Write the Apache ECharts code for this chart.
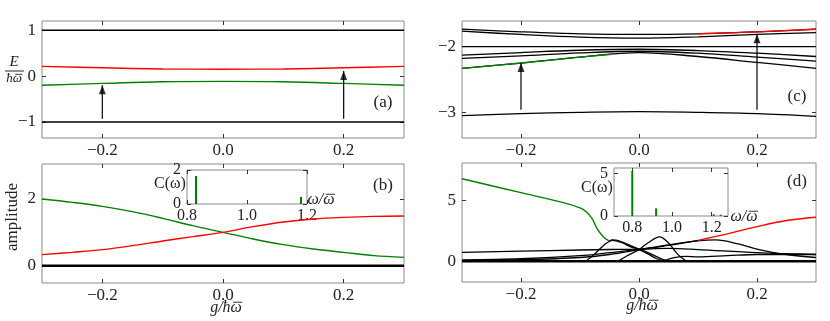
<!DOCTYPE html>
<html><head><meta charset="utf-8">
<script src="https://cdn.jsdelivr.net/npm/echarts@6/dist/echarts.min.js"></script>
<style>html,body{margin:0;padding:0;background:#fff}#c{width:830px;height:321px}</style>
</head><body><div id="c"></div>
<script>
// ---------- data ----------
// panel (a)
const aX = [-0.3,-0.2,-0.1,0,0.1,0.2,0.3];
const aTop = [1,1,1,1,1,1,1];
const aRed = [0.21,0.18,0.155,0.15,0.155,0.18,0.21];
const aGreen = [-0.2,-0.16,-0.125,-0.115,-0.125,-0.16,-0.2];
const aBottom = [-1,-1,-1,-1,-1,-1,-1];
const aArrows = [[-0.2,-0.93,-0.2],[0.2,-0.93,0.11]];
// panel (b)
const bX = [-0.3,-0.25,-0.2,-0.15,-0.1,-0.05,0,0.05,0.1,0.15,0.2,0.25,0.3];
const bGreen = [2.0,1.9,1.78,1.62,1.42,1.2,1.0,0.8,0.63,0.5,0.4,0.3,0.25];
const bRed = [0.33,0.4,0.48,0.6,0.74,0.87,1.0,1.17,1.31,1.4,1.45,1.48,1.49];
const bZero = [0,0,0,0,0,0,0,0,0,0,0,0,0];
// inset (b)
const ibX = [0.83,1.18];
const ibY = [1.65,0.41];
// panel (c)
const cX = [-0.3,-0.2,-0.1,0,0.1,0.2,0.3];
const cTop1 = [-1.735,-1.775,-1.805,-1.815,-1.805,-1.775,-1.735];
const cTop2 = [-1.765,-1.815,-1.855,-1.87,-1.85,-1.815,-1.787];
const cFlat = [-2,-2,-2,-2,-2,-2,-2];
const cMid1 = [-2.13,-2.09,-2.055,-2.04,-2.06,-2.1,-2.15];
const cMid2 = [-2.18,-2.14,-2.095,-2.07,-2.1,-2.16,-2.22];
const cMid3 = [-2.33,-2.25,-2.16,-2.09,-2.15,-2.24,-2.33];
const cLow = [-3.05,-3.02,-3.0,-2.99,-3.0,-3.02,-3.06];
const cGreenX = [-0.3,-0.2,-0.1,-0.05];
const cGreen = [-2.33,-2.25,-2.16,-2.12];
const cRedX = [0.1,0.2,0.3];
const cRed = [-1.805,-1.775,-1.735];
const cArrows = [[-0.2,-2.96,-2.25],[0.2,-2.96,-1.81]];
// panel (d)
const dGreenX = [-0.3,-0.2,-0.13,-0.1,-0.09,-0.08,-0.07,-0.06,-0.05];
const dGreen = [6.8,5.65,4.85,4.4,4.1,3.55,2.6,2.0,1.65];
const dRedX = [0.1,0.15,0.2,0.25,0.3];
const dRed = [1.72,2.25,2.85,3.35,3.62];
const d1X = [-0.3,-0.2,-0.1,-0.05,0,0.05,0.1];
const d1 = [0.72,0.83,0.92,0.96,1.0,1.3,1.72];
const d2X = [-0.3,-0.2,-0.1,-0.05,0,0.05,0.1,0.13,0.17,0.2,0.25,0.3];
const d2 = [0.05,0.12,0.3,0.55,0.95,1.35,1.68,1.75,1.4,1.0,0.55,0.3];
const d3X = [-0.05,-0.045,-0.035,-0.02,0,0.02,0.04,0.05];
const d3 = [1.65,1.75,1.7,1.4,1.0,0.6,0.15,0];
const d4X = [-0.09,-0.075,-0.06,-0.045,-0.03,-0.015,0,0.015,0.03,0.045];
const d4 = [0,0.6,1.3,1.72,1.55,1.2,0.95,0.6,0.2,0];
const d5X = [-0.035,-0.02,0,0.015,0.035,0.05,0.065,0.08];
const d5 = [0,0.45,0.95,1.5,2.0,1.5,0.6,0];
const d6X = [-0.3,-0.2,-0.1,-0.05,0,0.05,0.1,0.2,0.3];
const d6 = [0.1,0.2,0.45,0.7,0.95,1.05,0.95,0.7,0.55];
const d7X = [0.04,0.06,0.08,0.1,0.15,0.2,0.3];
const d7 = [0,0.3,0.4,0.35,0.45,0.55,0.55];
const dZeroX = [-0.3,0.3];
const dZero = [0,0];
// inset (d)
const idX = [0.8,0.92,1.21,1.245];
const idY = [5.3,0.9,0.2,0.15];
// tick labels
const mainXTicks = [-0.2,0,0.2];
const aYTicks = [-1,0,1];
const bYTicks = [0,2];
const cYTicks = [-3,-2];
const dYTicks = [0,5];
const ibXTicks = [0.8,1.0,1.2];
const ibYTicks = [0,2];
const idXTicks = [0.8,1.0,1.2];
const idYTicks = [0,5];

// ---------- chart ----------
const FONT = 'Liberation Serif';
const GREEN = '#008000', RED = '#ff0000', BLACK = '#000';
const fmt = d => v => (v < 0 ? '\u2212' : '') + Math.abs(v).toFixed(d);
const pairs = (xs, ys) => xs.map((x, i) => [x, ys[i]]);

const grids = [
  {left:42, top:21, width:362, height:117},
  {left:42, top:164, width:362, height:119},
  {left:462, top:21, width:354, height:117},
  {left:462, top:163, width:354, height:119},
  {left:187, top:170, width:120, height:34, backgroundColor:'#fff'},
  {left:614, top:168, width:114, height:48, backgroundColor:'#fff'}
].map(g => Object.assign({show:true, borderColor:'#8a8a8a', borderWidth:1, containLabel:false}, g));

const xAxes = [], yAxes = [];
function axes(g, xmin, xmax, xt, xd, ymin, ymax, yt, yd, fs) {
  const tick = (vals) => ({show:true, inside:true, length:4, customValues:vals, lineStyle:{color:'#333', width:1}});
  const line = {show:false, onZero:false};
  xAxes.push({gridIndex:g, type:'value', min:xmin, max:xmax, position:'bottom',
    axisLine:line, splitLine:{show:false}, axisTick:tick(xt),
    axisLabel:{customValues:xt, formatter:fmt(xd), fontFamily:FONT, fontSize:fs, color:'#222', margin:4}});
  xAxes.push({gridIndex:g, type:'value', min:xmin, max:xmax, position:'top',
    axisLine:line, splitLine:{show:false}, axisTick:tick(xt), axisLabel:{show:false}});
  yAxes.push({gridIndex:g, type:'value', min:ymin, max:ymax, position:'left',
    axisLine:line, splitLine:{show:false}, axisTick:tick(yt),
    axisLabel:{customValues:yt, formatter:fmt(yd), fontFamily:FONT, fontSize:fs, color:'#222', margin:6}});
  yAxes.push({gridIndex:g, type:'value', min:ymin, max:ymax, position:'right',
    axisLine:line, splitLine:{show:false}, axisTick:tick(yt), axisLabel:{show:false}});
}
axes(0, -0.3, 0.3, mainXTicks, 1, -1.35, 1.2, aYTicks, 0, 17);
axes(1, -0.3, 0.3, mainXTicks, 1, -0.52, 3.05, bYTicks, 0, 17);
axes(2, -0.3, 0.3, mainXTicks, 1, -3.39, -1.61, cYTicks, 0, 17);
axes(3, -0.3, 0.3, mainXTicks, 1, -1.72, 8.1, dYTicks, 0, 17);
axes(4, 0.8, 1.2, ibXTicks, 1, 0, 2, ibYTicks, 0, 16);
axes(5, 0.708, 1.282, idXTicks, 1, 0, 5.65, idYTicks, 0, 16);

const series = [];
function line(g, xs, ys, color, width, z) {
  series.push({type:'line', xAxisIndex:2*g, yAxisIndex:2*g, data:pairs(xs, ys), smooth:0.35,
    showSymbol:false, symbol:'none', lineStyle:{color, width}, z:z||2, silent:true, animation:false});
}
function arrows(g, arr) {
  arr.forEach(a => {
    series.push({type:'line', xAxisIndex:2*g, yAxisIndex:2*g, data:[[a[0],a[1]],[a[0],a[2]]],
      showSymbol:false, symbol:'none', lineStyle:{color:BLACK, width:1.2}, z:5, animation:false, silent:true});
    series.push({type:'scatter', xAxisIndex:2*g, yAxisIndex:2*g, data:[[a[0],a[2]]],
      symbol:'triangle', symbolSize:[7,9], symbolOffset:[0,4.5], itemStyle:{color:BLACK}, z:6, animation:false, silent:true});
  });
}
// (a)
line(0, aX, aTop, BLACK, 1.4);
line(0, aX, aRed, RED, 1.4);
line(0, aX, aGreen, GREEN, 1.4);
line(0, aX, aBottom, BLACK, 1.4);
arrows(0, aArrows);
// (b)
line(1, bX, bZero, BLACK, 2.5);
line(1, bX, bGreen, GREEN, 1.4);
line(1, bX, bRed, RED, 1.4);
// (c)
[cTop1, cTop2, cFlat, cMid1, cMid2, cMid3, cLow].forEach(ys => line(2, cX, ys, BLACK, 1.3));
line(2, cGreenX, cGreen, GREEN, 1.4, 3);
line(2, cRedX, cRed, RED, 1.4, 3);
arrows(2, cArrows);
// (d)
line(3, dZeroX, dZero, BLACK, 2.5);
[[d1X,d1],[d2X,d2],[d3X,d3],[d4X,d4],[d5X,d5],[d6X,d6],[d7X,d7]].forEach(p => line(3, p[0], p[1], BLACK, 1.3));
line(3, dGreenX, dGreen, GREEN, 1.4, 3);
line(3, dRedX, dRed, RED, 1.4, 3);
// insets
series.push({type:'bar', xAxisIndex:8, yAxisIndex:8, data:pairs(ibX, ibY), barWidth:2, itemStyle:{color:GREEN}, animation:false, z:10});
series.push({type:'bar', xAxisIndex:10, yAxisIndex:10, data:pairs(idX, idY), barWidth:2, itemStyle:{color:GREEN}, animation:false, z:10});

// text helpers (with overbar on the trailing omega)
const ctx = document.createElement('canvas').getContext('2d');
function measure(text, size, italic) {
  ctx.font = (italic ? 'italic ' : '') + size + 'px "' + FONT + '"';
  return ctx.measureText(text).width;
}
const graphic = [];
function txt(x, y, text, size, italic, align) {
  graphic.push({type:'text', x, y, style:{text, fontFamily:FONT, fontStyle:italic?'italic':'normal', fontSize:size, fill:'#222', textAlign:align||'center', textVerticalAlign:'middle'}});
}
function barText(cx, cy, text, size) { // text ends with ω that gets a bar
  const w = measure(text, size, true), wo = measure('\u03C9', size, true);
  const x0 = cx - w / 2;
  txt(x0, cy, text, size, true, 'left');
  const bx1 = x0 + w - wo + 2.5, bx2 = x0 + w + 0.5, by = cy - size * 0.36;
  graphic.push({type:'line', shape:{x1:bx1, y1:by, x2:bx2, y2:by}, style:{stroke:'#222', lineWidth:0.9}});
}
txt(383, 103, '(a)', 17); txt(383, 186, '(b)', 17); txt(797, 97, '(c)', 17); txt(797, 182, '(d)', 17);
txt(14, 62, 'E', 15, true);
graphic.push({type:'line', shape:{x1:5, y1:71, x2:24, y2:71}, style:{stroke:'#222', lineWidth:1}});
barText(14, 79, '\u0127\u03C9', 13);
graphic.push({type:'text', x:13, y:217, rotation:Math.PI/2, style:{text:'amplitude', fontFamily:FONT, fontSize:17, fill:'#222', textAlign:'center', textVerticalAlign:'middle'}});
barText(226, 308, 'g/\u0127\u03C9', 16);
barText(642, 306, 'g/\u0127\u03C9', 16);
txt(170, 184, 'C(\u03C9)', 16, false);
barText(321, 200, '\u03C9/\u03C9', 16);
txt(597, 188, 'C(\u03C9)', 16, false);
barText(744, 217, '\u03C9/\u03C9', 16);

const chart = echarts.init(document.getElementById('c'), null, {renderer:'canvas'});
chart.setOption({animation:false, backgroundColor:'#fff', grid:grids, xAxis:xAxes, yAxis:yAxes, series, graphic});
</script></body></html>
